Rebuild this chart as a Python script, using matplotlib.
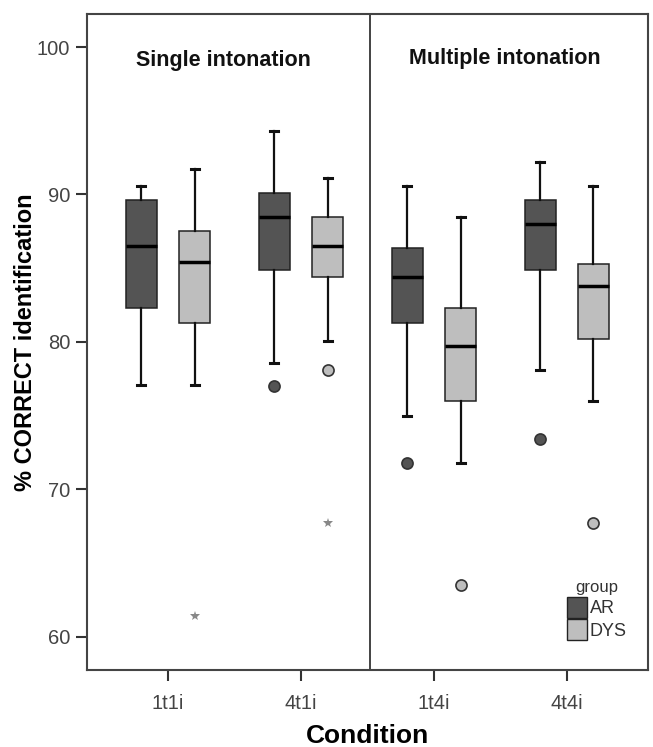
import matplotlib.pyplot as plt
from matplotlib.patches import Patch

plt.rcParams["font.family"] = ["Liberation Sans", "DejaVu Sans"]

# conditions and groups
conditions = ["1t1i", "4t1i", "1t4i", "4t4i"]
groups = ["AR", "DYS"]

# box stats: [low whisker, Q1, median, Q3, high whisker]
ar_stats = [
    [77.1, 82.3, 86.5, 89.6, 90.6],
    [78.6, 84.9, 88.5, 90.1, 94.3],
    [75.0, 81.3, 84.4, 86.4, 90.6],
    [78.1, 84.9, 88.0, 89.6, 92.2],
]
dys_stats = [
    [77.1, 81.3, 85.4, 87.5, 91.7],
    [80.1, 84.4, 86.5, 88.5, 91.1],
    [71.8, 76.0, 79.7, 82.3, 88.5],
    [76.0, 80.2, 83.8, 85.3, 90.6],
]

# outliers (circles) and extremes (stars): (condition index, value)
ar_circles = [(1, 77.0), (2, 71.8), (3, 73.4)]
dys_circles = [(1, 78.1), (2, 63.5), (3, 67.7)]
dys_stars = [(0, 61.4), (1, 67.7)]

dark = "#545454"
light = "#bebebe"
offset = 0.2
width = 0.23

fig = plt.figure(figsize=(6.53, 7.47), dpi=100)
ax = fig.add_axes([0.1332, 0.1031, 0.8591, 0.8782])


def make_stats(rows):
    out = []
    for r in rows:
        out.append({"whislo": r[0], "q1": r[1], "med": r[2], "q3": r[3],
                    "whishi": r[4], "fliers": []})
    return out


for rows, shift, col in [(ar_stats, -offset, dark), (dys_stats, offset, light)]:
    pos = [i + shift for i in range(len(conditions))]
    ax.bxp(make_stats(rows), positions=pos, widths=width, patch_artist=True,
           showfliers=False, capwidths=0.06,
           boxprops=dict(facecolor=col, edgecolor="#222222", linewidth=1.1),
           medianprops=dict(color="black", linewidth=2.5),
           whiskerprops=dict(color="#111111", linewidth=1.6),
           capprops=dict(color="#111111", linewidth=2.2))

for pts, shift, col in [(ar_circles, -offset, dark), (dys_circles, offset, light)]:
    ax.plot([p[0] + shift for p in pts], [p[1] for p in pts], "o",
            color=col, markeredgecolor="#333333", markersize=8, markeredgewidth=1.2)

ax.plot([p[0] + offset for p in dys_stars], [p[1] for p in dys_stars], "*",
        color="#888888", markersize=7, markeredgewidth=0)

# divider between the two panels
ax.axvline(1.52, color="#222222", linewidth=1.2)

ax.text(0.42, 99.1, "Single intonation", ha="center", va="center",
        fontsize=15.5, fontweight="bold", color="#111111")
ax.text(2.53, 99.2, "Multiple intonation", ha="center", va="center",
        fontsize=15.5, fontweight="bold", color="#111111")

ax.set_xlim(-0.61, 3.61)
ax.set_ylim(57.76, 102.24)
ax.set_xticks(range(len(conditions)))
ax.set_xticklabels(conditions)
ax.set_yticks([60, 70, 80, 90, 100])
ax.tick_params(axis="both", direction="out", length=8, width=1.5,
               color="#333333", labelcolor="#444444", labelsize=14.5, pad=4)
ax.tick_params(axis="x", pad=9)
for s in ax.spines.values():
    s.set_color("#444444")
    s.set_linewidth(1.5)

ax.set_xlabel("Condition", fontsize=19, fontweight="bold", labelpad=8)
ax.set_ylabel("% CORRECT identification", fontsize=17, fontweight="bold", labelpad=0)

handles = [Patch(facecolor=dark, edgecolor="#222222", label=groups[0]),
           Patch(facecolor=light, edgecolor="#222222", label=groups[1])]
leg = ax.legend(handles=handles, title="group", loc="lower right",
                bbox_to_anchor=(0.985, 0.026), frameon=False, fontsize=13,
                title_fontsize=12, handlelength=1.1, handleheight=1.4,
                handletextpad=0.15, labelspacing=0.1, borderpad=0.2)
leg.get_title().set_color("#333333")
for t in leg.get_texts():
    t.set_color("#333333")

plt.savefig("out.png", dpi=100)
